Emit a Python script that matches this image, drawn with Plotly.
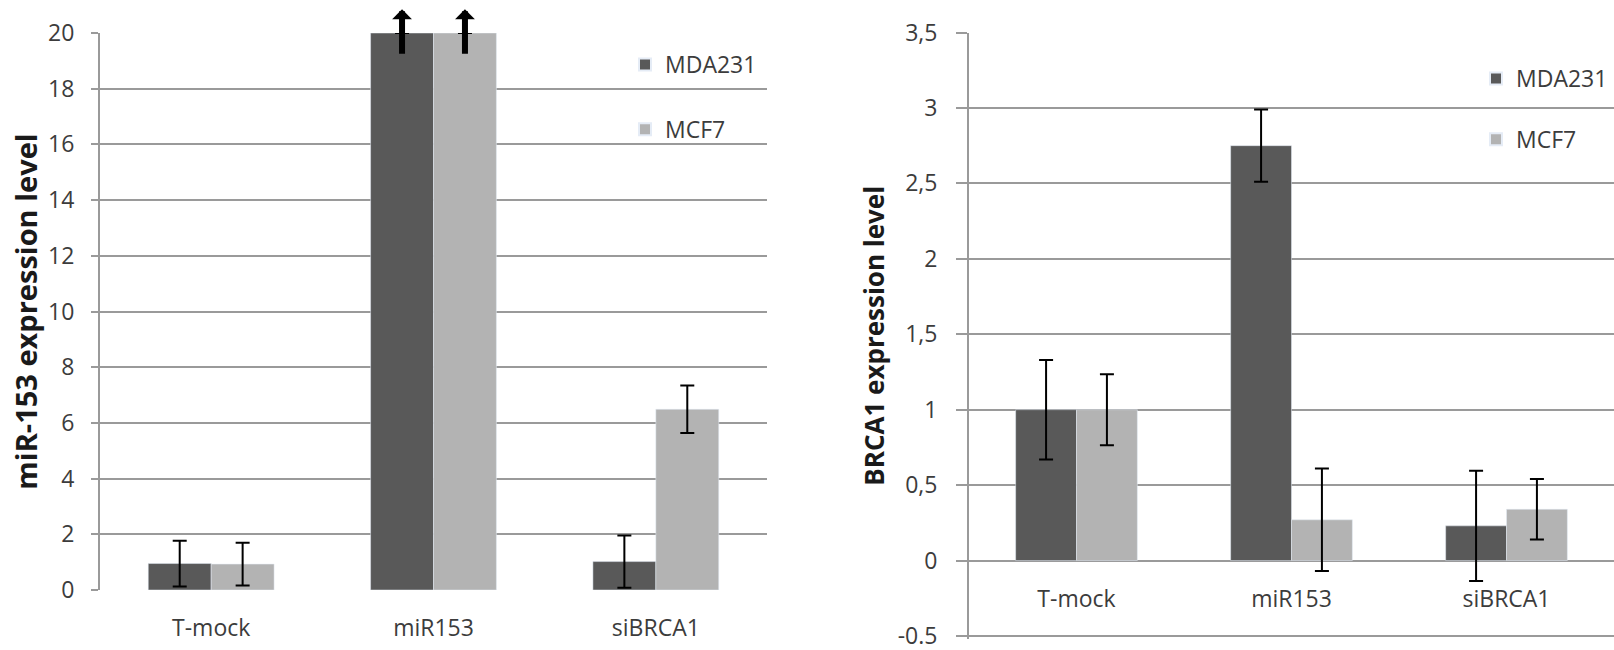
import plotly.graph_objects as go

# ---------------- data ----------------
categories = ["T-mock", "miR153", "siBRCA1"]
series_names = ["MDA231", "MCF7"]

# left panel: miR-153 expression level
mir_mda = [0.95, 20.0, 1.02]
mir_mda_err = [0.82, 0.0, 0.94]
mir_mcf = [0.93, 20.0, 6.49]
mir_mcf_err = [0.77, 0.0, 0.85]
# off-scale indicator (arrow) on the miR153 bars
arrow_low = 19.2
arrow_high = 20.85

# right panel: BRCA1 expression level
brca_mda = [1.0, 2.75, 0.23]
brca_mda_err = [0.33, 0.24, 0.365]
brca_mcf = [1.0, 0.27, 0.34]
brca_mcf_err = [0.235, 0.34, 0.20]

left_yticks = [0, 2, 4, 6, 8, 10, 12, 14, 16, 18, 20]
right_yticks = [-0.5, 0, 0.5, 1, 1.5, 2, 2.5, 3, 3.5]
right_yticktext = ["-0.5", "0", "0,5", "1", "1,5", "2", "2,5", "3", "3,5"]

# ---------------- style ----------------
DARK = "#595959"
LIGHT = "#b3b3b3"
GRID = "#9a9a9a"
TXT = "#3c3c3c"
FONT = "Open Sans"
BARGAP = 0.434

W, H = 1614, 650
left_xdom = [100 / W, 767 / W]
left_ydom = [1 - 590 / H, 1 - 33 / H]
right_xdom = [969 / W, 1.0]
right_yrange = [-0.52, 3.5]
# pixel scale of right panel: 3.5 at y=32.5px, -0.5 at y=636px
_ppu = (636 - 32.5) / 4.0
right_ydom = [1 - (636 + (-0.5 - right_yrange[0]) * _ppu) / H, 1 - 32.5 / H]

fig = go.Figure()

err_style = dict(type="data", visible=True, color="black", thickness=2, width=7)

fig.add_trace(go.Bar(
    x=categories, y=mir_mda, name=series_names[0], marker_color=DARK,
    error_y=dict(array=mir_mda_err, **err_style),
    xaxis="x", yaxis="y", legend="legend", legendgroup="a"))
fig.add_trace(go.Bar(
    x=categories, y=mir_mcf, name=series_names[1], marker_color=LIGHT,
    error_y=dict(array=mir_mcf_err, **err_style),
    xaxis="x", yaxis="y", legend="legend", legendgroup="b"))
fig.add_trace(go.Bar(
    x=categories, y=brca_mda, name=series_names[0], marker_color=DARK,
    error_y=dict(array=brca_mda_err, **err_style),
    xaxis="x2", yaxis="y2", legend="legend2", legendgroup="c"))
fig.add_trace(go.Bar(
    x=categories, y=brca_mcf, name=series_names[1], marker_color=LIGHT,
    error_y=dict(array=brca_mcf_err, **err_style),
    xaxis="x2", yaxis="y2", legend="legend2", legendgroup="d"))

# arrows on the off-scale miR153 bars (category serial 1, offset per series)
half = (1 - BARGAP) / 4
mi = categories.index("miR153")
for dx in (-half, half):
    fig.add_annotation(
        x=mi + dx, y=arrow_high, ax=mi + dx, ay=arrow_low,
        xref="x", yref="y", axref="x", ayref="y",
        showarrow=True, arrowhead=1, arrowsize=0.55, arrowwidth=6,
        arrowcolor="black", standoff=0, startstandoff=0, text="")

axis_font = dict(family=FONT, size=23, color=TXT)

# position of the right panel's category axis at y = 0
zero_frac = (0 - right_yrange[0]) / (right_yrange[1] - right_yrange[0])
zero_pos = right_ydom[0] + zero_frac * (right_ydom[1] - right_ydom[0])

fig.update_layout(
    width=W, height=H,
    margin=dict(l=0, r=0, t=0, b=0, autoexpand=False),
    paper_bgcolor="white", plot_bgcolor="white",
    barmode="group", bargap=BARGAP, bargroupgap=0,
    font=dict(family=FONT, color=TXT),
    xaxis=dict(domain=left_xdom, anchor="y", type="category",
               showgrid=False, showline=False, ticks="",
               tickfont=axis_font, ticklabelstandoff=22),
    yaxis=dict(domain=left_ydom, anchor="x", range=[0, 20],
               tickvals=left_yticks, tickfont=axis_font,
               showgrid=True, gridcolor=GRID, gridwidth=2,
               zeroline=False,
               showline=True, linecolor=GRID, linewidth=2,
               ticks="outside", ticklen=7, tickwidth=2, tickcolor=GRID,
               ticklabelstandoff=12, ticklabeloverflow="allow",
               title=dict(text="<b>miR-153 expression level</b>",
                          font=dict(family=FONT, size=29, color="#1a1a1a"),
                          standoff=2)),
    xaxis2=dict(domain=right_xdom, anchor="free", position=zero_pos,
                type="category", showgrid=False, showline=False, ticks="",
                tickfont=axis_font, ticklabelstandoff=22),
    yaxis2=dict(domain=right_ydom, anchor="x2", range=right_yrange,
                tickvals=right_yticks, ticktext=right_yticktext,
                tickfont=axis_font,
                showgrid=True, gridcolor=GRID, gridwidth=2,
                zeroline=False,
                showline=True, linecolor=GRID, linewidth=2,
                ticks="outside", ticklen=11, tickwidth=2, tickcolor=GRID,
                ticklabelstandoff=14, ticklabeloverflow="allow",
                title=dict(text="<b>BRCA1 expression level</b>",
                           font=dict(family=FONT, size=26, color="#1a1a1a"),
                           standoff=6)),
    legend=dict(x=625 / W, y=1 - 43 / H, xanchor="left", yanchor="top",
                bgcolor="rgba(0,0,0,0)", tracegroupgap=32,
                font=dict(family=FONT, size=23, color=TXT),
                itemsizing="constant"),
    legend2=dict(x=1476 / W, y=1 - 57 / H, xanchor="left", yanchor="top",
                 bgcolor="rgba(0,0,0,0)", tracegroupgap=28,
                 font=dict(family=FONT, size=23, color=TXT),
                 itemsizing="constant"),
    showlegend=True,
)

fig.write_html("out.html")
